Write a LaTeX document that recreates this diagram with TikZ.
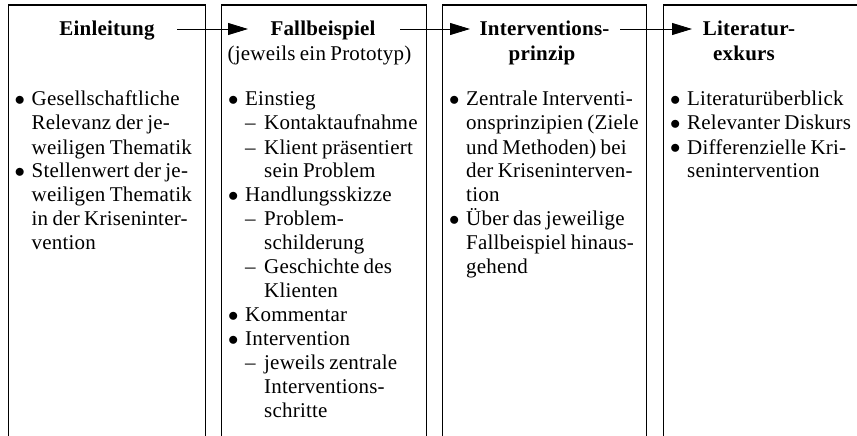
\documentclass[tikz,border=0pt]{standalone}
\usepackage{fontspec}
\setmainfont[LetterSpace=1.0,WordSpace=0.8]{Liberation Serif}
\usetikzlibrary{arrows.meta}
\newcommand\Bul{\makebox[17pt][l]{\raisebox{0.5pt}{$\bullet$}}}
\newcommand\Ind{\hspace*{17pt}}
\newcommand\Dsh{\hspace*{17pt}\makebox[19pt][l]{\textendash}}
\newcommand\Sind{\hspace*{36pt}}
\newcommand\lst[1]{\parbox[t]{200pt}{\fontsize{21}{24}\selectfont\raggedright #1}}
\begin{document}
\begin{tikzpicture}[x=1pt,y=-1pt,
  colbox/.style={draw=black,line width=1.3pt,minimum height=520pt,inner sep=0pt,anchor=north west},
  headtxt/.style={font=\fontsize{21}{24}\selectfont\bfseries,anchor=base,inner sep=0pt},
  subtxt/.style={font=\fontsize{21}{24}\selectfont,anchor=base,inner sep=0pt},
  lstnode/.style={anchor=base west,inner sep=0pt},
  arr/.style={line width=0.9pt,-{Triangle[length=20pt,width=12pt]}}]
\useasboundingbox (0,0) rectangle (857,436);
\clip (0,0) rectangle (857,436);
\node[colbox,minimum width=197pt] (box1) at (7.5,4.5) {};
\node[colbox,minimum width=204.7pt] (box2) at (221,4.5) {};
\node[colbox,minimum width=204pt] (box3) at (442,4.5) {};
\node[colbox,minimum width=205pt] (box4) at (663,4.5) {};
\node[headtxt] (h1) at (107,36) {Einleitung};
\node[headtxt] (h2) at (323,36) {Fallbeispiel};
\node[subtxt] (h2b) at (319.5,60) {(jeweils ein Prototyp)};
\node[headtxt] (h3) at (544.5,36) {Interventions-};
\node[headtxt] (h3b) at (542,60) {prinzip};
\node[headtxt] (h4) at (749,36) {Literatur-};
\node[headtxt] (h4b) at (744,60) {exkurs};
\coordinate (a1) at (177,29); \coordinate (b1) at (248,29);
\coordinate (a2) at (400,29); \coordinate (b2) at (470,29);
\coordinate (a3) at (620,29); \coordinate (b3) at (692,29);
\draw[arr] (a1) -- (b1);
\draw[arr] (a2) -- (b2);
\draw[arr] (a3) -- (b3);
\node[lstnode] (l1) at (14.5,106) {\lst{%
\Bul Gesellschaftliche\\
\Ind Relevanz der je-\\
\Ind weiligen Thematik\\
\Bul Stellenwert der je-\\
\Ind weiligen Thematik\\
\Ind in der Kriseninter-\\
\Ind vention}};
\node[lstnode] (l2) at (228,106) {\lst{%
\Bul Einstieg\\
\Dsh Kontaktaufnahme\\
\Dsh Klient präsentiert\\
\Sind sein Problem\\
\Bul Handlungsskizze\\
\Dsh Problem-\\
\Sind schilderung\\
\Dsh Geschichte des\\
\Sind Klienten\\
\Bul Kommentar\\
\Bul Intervention\\
\Dsh jeweils zentrale\\
\Sind Interventions-\\
\Sind schritte}};
\node[lstnode] (l3) at (449,106) {\lst{%
\Bul Zentrale Interventi-\\
\Ind onsprinzipien (Ziele\\
\Ind und Methoden) bei\\
\Ind der Kriseninterven-\\
\Ind tion\\
\Bul Über das jeweilige\\
\Ind Fallbeispiel hinaus-\\
\Ind gehend}};
\node[lstnode] (l4) at (670,106) {\lst{%
\Bul Literaturüberblick\\
\Bul Relevanter Diskurs\\
\Bul Differenzielle Kri-\\
\Ind senintervention}};
\end{tikzpicture}
\end{document}
